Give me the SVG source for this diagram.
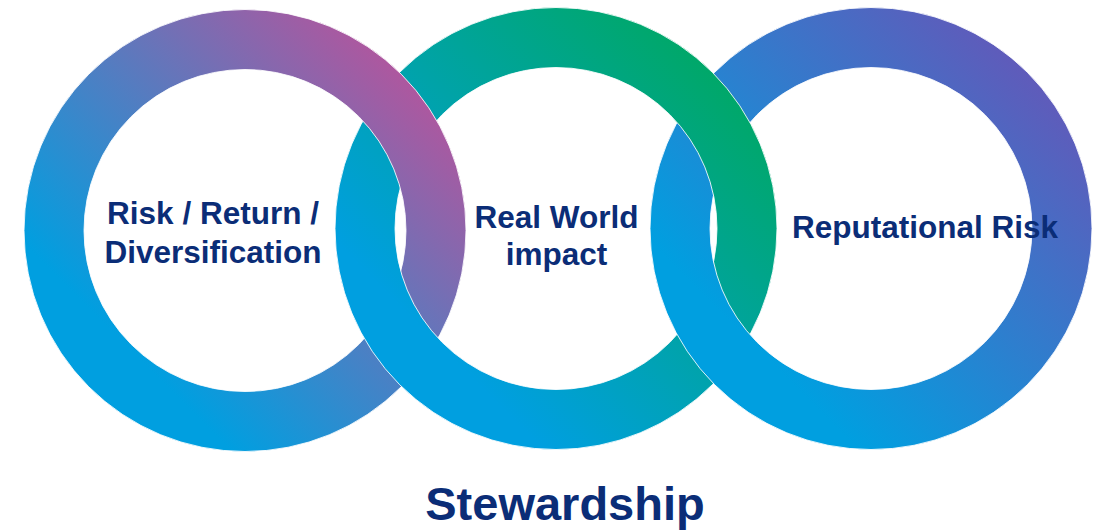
<svg xmlns="http://www.w3.org/2000/svg" xmlns:xlink="http://www.w3.org/1999/xlink" width="1099" height="531" viewBox="0 0 1099 531">
  <style>
    .band { fill: none; stroke-width: 60; }
    .edge { fill: none; stroke: #ffffff; stroke-width: 1; stroke-opacity: 0.85; }
    .label { font-family: "Liberation Sans", Arial, sans-serif; font-weight: bold; font-size: 31.5px; fill: #0b2d77; text-anchor: middle; }
    .title { font-family: "Liberation Sans", Arial, sans-serif; font-weight: bold; font-size: 47px; fill: #0b2d77; text-anchor: middle; }
  </style>
  <defs>
    <linearGradient id="g1" gradientUnits="userSpaceOnUse" x1="100" y1="320" x2="390" y2="30">
      <stop offset="0" stop-color="#009fe0"/>
      <stop offset="1" stop-color="#b8539b"/>
    </linearGradient>
    <linearGradient id="g2" gradientUnits="userSpaceOnUse" x1="411" y1="318" x2="701" y2="28">
      <stop offset="0" stop-color="#009fe0"/>
      <stop offset="1" stop-color="#00a862"/>
    </linearGradient>
    <linearGradient id="g3" gradientUnits="userSpaceOnUse" x1="726" y1="318" x2="1016" y2="28">
      <stop offset="0" stop-color="#009fe0"/>
      <stop offset="1" stop-color="#6557b8"/>
    </linearGradient>
    <g id="ring1-shape">
      <circle class="band" cx="245" cy="230.5" r="191" stroke="url(#g1)"/>
      <circle class="edge" cx="245" cy="230.5" r="221"/>
      <circle class="edge" cx="245" cy="230.5" r="161"/>
    </g>
    <g id="ring2-shape">
      <circle class="band" cx="556" cy="228.5" r="191" stroke="url(#g2)"/>
      <circle class="edge" cx="556" cy="228.5" r="221"/>
      <circle class="edge" cx="556" cy="228.5" r="161"/>
    </g>
    <g id="ring3-shape">
      <circle class="band" cx="871" cy="228.5" r="191" stroke="url(#g3)"/>
      <circle class="edge" cx="871" cy="228.5" r="221"/>
      <circle class="edge" cx="871" cy="228.5" r="161"/>
    </g>
    <clipPath id="clip12">
      <rect x="320" y="0" width="170" height="229"/>
    </clipPath>
    <clipPath id="clip23">
      <rect x="630" y="0" width="175" height="228"/>
    </clipPath>
  </defs>

  <g id="node-risk-return">
    <use xlink:href="#ring1-shape"/>
    <text class="label" x="213" y="224">Risk / Return /</text>
    <text class="label" x="213" y="262.5">Diversification</text>
  </g>

  <g id="node-real-world">
    <use xlink:href="#ring2-shape"/>
    <text class="label" x="556.5" y="228">Real World</text>
    <text class="label" x="556.5" y="265">impact</text>
  </g>

  <g id="node-reputational">
    <use xlink:href="#ring3-shape"/>
    <text class="label" x="925" y="238">Reputational Risk</text>
  </g>

  <g id="interlocks">
    <use xlink:href="#ring1-shape" clip-path="url(#clip12)"/>
    <use xlink:href="#ring2-shape" clip-path="url(#clip23)"/>
  </g>

  <g id="caption">
    <text class="title" x="565" y="520">Stewardship</text>
  </g>
</svg>
